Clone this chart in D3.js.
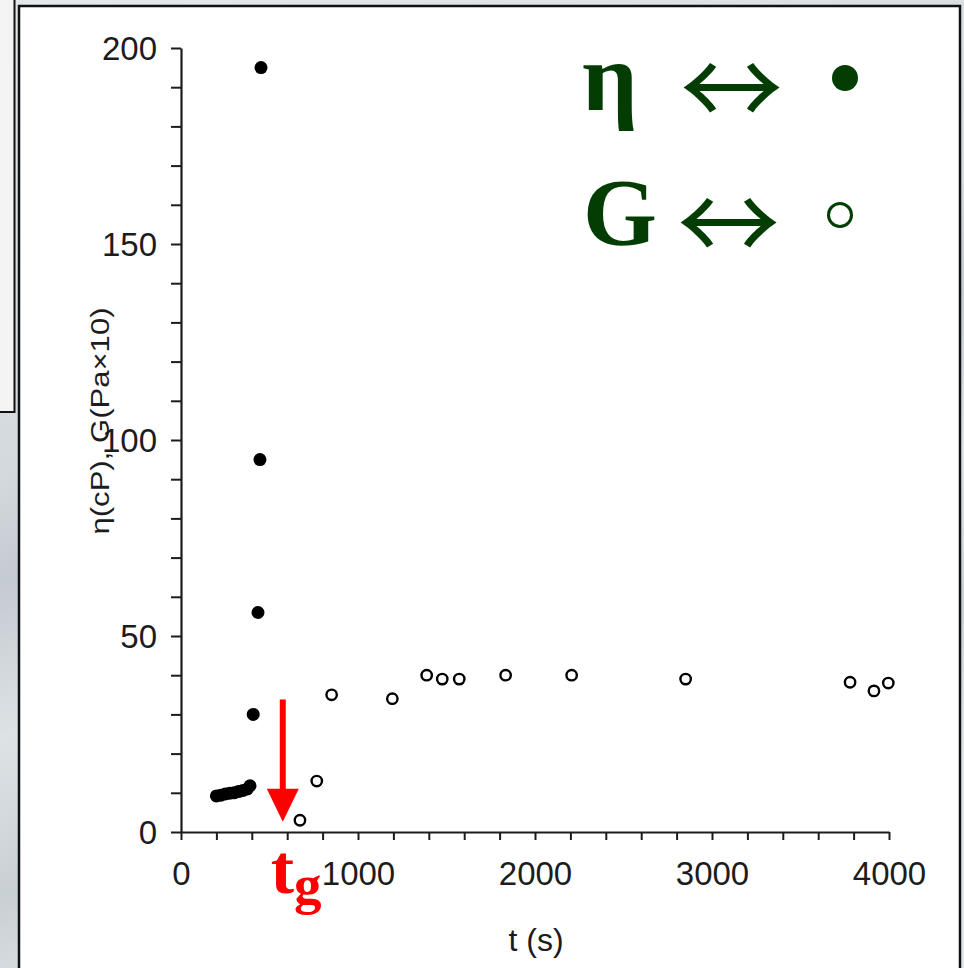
<!DOCTYPE html>
<html>
<head>
<meta charset="utf-8">
<script src="https://cdn.jsdelivr.net/npm/d3@7"></script>
<style>
  body { margin: 0; background: #dfe3e6; }
  svg { display: block; }
</style>
</head>
<body>
<svg id="chart" width="964" height="968"></svg>
<script>
// η (filled) : t in s, viscosity in cP
const etaTime = [200, 225, 250, 275, 300, 325, 350, 375, 390, 408, 435, 446, 452];
const etaValue = [9.2, 9.4, 9.7, 9.9, 10, 10.3, 10.6, 11, 11.8, 30, 56, 95, 195];

// G (open) : t in s, modulus in Pa x 10
const gTime = [672, 767, 851, 1194, 1388, 1476, 1572, 1834, 2207, 2851, 3780, 3915, 3996];
const gValue = [3, 13, 35, 34, 40, 39, 39, 40, 40, 39, 38.2, 36, 38];

const xTicks = [0, 200, 400, 600, 800, 1000, 1200, 1400, 1600, 1800, 2000, 2200, 2400, 2600, 2800, 3000, 3200, 3400, 3600, 3800, 4000];
const xLabels = [0, 1000, 2000, 3000, 4000];
const yLabels = [0, 50, 100, 150, 200];

// gel time marker
const tGel = 575;
const arrowFrom = 33.8;
const arrowTo = 2.6;

const green = "#033d03";
const red = "#ff0000";
const ink = "#1c1c1c";

const svg = d3.select("#chart");

// ---- background pieces ----
const defs = svg.append("defs");
const grad = defs.append("linearGradient")
  .attr("id", "bg")
  .attr("x1", 0).attr("y1", 0).attr("x2", 0.3).attr("y2", 1);
[["0", "#e4e8ea"], ["0.45", "#d4d9dd"], ["0.55", "#c4cbd1"], ["0.7", "#dde2e5"], ["0.85", "#c9d0d4"], ["1", "#e2e6e8"]]
  .forEach(([o, c]) => grad.append("stop").attr("offset", o).attr("stop-color", c));

svg.append("rect").attr("width", 964).attr("height", 968).attr("fill", "url(#bg)");

// box behind (top-left)
svg.append("rect")
  .attr("x", -5).attr("y", -5).attr("width", 19.5).attr("height", 417)
  .attr("fill", "#f4f4f4").attr("stroke", "#111").attr("stroke-width", 2);

// main panel
svg.append("rect")
  .attr("x", 19).attr("y", 6).attr("width", 941).attr("height", 980)
  .attr("fill", "#fff").attr("stroke", "#111").attr("stroke-width", 2.5);

// ---- scales ----
const x = d3.scaleLinear().domain([0, 4000]).range([181, 889]);
const y = d3.scaleLinear().domain([0, 200]).range([832, 48]);

const xAxis = d3.axisBottom(x)
  .tickValues(xTicks)
  .tickSize(8)
  .tickSizeOuter(0)
  .tickPadding(22)
  .tickFormat(d => xLabels.includes(d) ? d : "");

const yAxis = d3.axisLeft(y)
  .tickValues(d3.range(0, 201, 10))
  .tickSize(10)
  .tickSizeOuter(0)
  .tickPadding(14)
  .tickFormat(d => yLabels.includes(d) ? d : "");

const gx = svg.append("g")
  .attr("transform", `translate(0,${y(0)})`)
  .call(xAxis);

const gy = svg.append("g")
  .attr("transform", `translate(${x(0)},0)`)
  .call(yAxis);

[gx, gy].forEach(g => {
  g.select(".domain").attr("stroke", ink).attr("stroke-width", 2.2);
  g.selectAll(".tick line").attr("stroke", ink).attr("stroke-width", 2);
  g.selectAll(".tick text")
    .attr("fill", ink)
    .style("font-family", "'Liberation Sans', Arial, sans-serif")
    .style("font-size", "33px");
});
gx.selectAll(".tick text").attr("dy", "0.71em");
gy.selectAll(".tick text").attr("dy", "0.36em");

// axis titles
svg.append("text")
  .attr("transform", `translate(109,421) rotate(-90)`)
  .attr("text-anchor", "middle")
  .attr("textLength", 227)
  .attr("lengthAdjust", "spacingAndGlyphs")
  .attr("fill", ink)
  .style("font-family", "'Liberation Sans', Arial, sans-serif")
  .style("font-size", "26px")
  .text("η(cP), G(Pa×10)");

svg.append("text")
  .attr("x", 536).attr("y", 951)
  .attr("text-anchor", "middle")
  .attr("fill", ink)
  .style("font-family", "'Liberation Sans', Arial, sans-serif")
  .style("font-size", "32px")
  .text("t (s)");

// ---- data ----
const etaData = etaTime.map((t, i) => ({ t, v: etaValue[i] }));
const gData = gTime.map((t, i) => ({ t, v: gValue[i] }));

svg.append("g").selectAll("circle")
  .data(etaData)
  .join("circle")
  .attr("cx", d => x(d.t))
  .attr("cy", d => y(d.v))
  .attr("r", 6.5)
  .attr("fill", "#000");

svg.append("g").selectAll("circle")
  .data(gData)
  .join("circle")
  .attr("cx", d => x(d.t))
  .attr("cy", d => y(d.v))
  .attr("r", 5.2)
  .attr("fill", "#fff")
  .attr("stroke", "#000")
  .attr("stroke-width", 2.4);

// ---- gel point arrow ----
const ax = x(tGel);
svg.append("line")
  .attr("x1", ax).attr("x2", ax)
  .attr("y1", y(arrowFrom)).attr("y2", y(arrowTo) - 30)
  .attr("stroke", red).attr("stroke-width", 6);
svg.append("path")
  .attr("d", `M${ax - 16},${y(arrowTo) - 33} L${ax + 16},${y(arrowTo) - 33} L${ax},${y(arrowTo)} Z`)
  .attr("fill", red);

const tg = svg.append("text")
  .attr("x", ax - 12).attr("y", 893)
  .attr("fill", red)
  .style("font-family", "'Liberation Serif', 'Times New Roman', serif")
  .style("font-weight", "bold")
  .style("font-size", "70px")
  .text("t");
tg.append("tspan")
  .attr("dy", 10)
  .style("font-size", "55px")
  .text("g");

// ---- legend ----
const legend = svg.append("g")
  .attr("fill", green)
  .style("font-family", "'Liberation Serif', 'Times New Roman', serif")
  .style("font-weight", "bold");

// put a glyph's ink box exactly into (x0, y0, w, h)
const measure = document.createElement("canvas").getContext("2d");
function fitGlyph(g, str, family, x0, y0, w, h) {
  measure.font = `100px ${family}`;
  const m = measure.measureText(str);
  const sx = w / (m.actualBoundingBoxLeft + m.actualBoundingBoxRight);
  const sy = h / (m.actualBoundingBoxAscent + m.actualBoundingBoxDescent);
  g.append("text")
    .attr("transform", `translate(${x0 + m.actualBoundingBoxLeft * sx},${y0 + m.actualBoundingBoxAscent * sy}) scale(${sx},${sy})`)
    .style("font-family", family)
    .style("font-weight", "normal")
    .style("font-size", "100px")
    .text(str);
}

const arrowFont = "'Noto Sans CJK JP'";

legend.append("text").attr("x", 582).attr("y", 110).style("font-size", "98px").text("η");
fitGlyph(legend, "↔", arrowFont, 683, 62, 97, 50);
legend.append("circle").attr("cx", 845).attr("cy", 78).attr("r", 13).attr("fill", green);

legend.append("text").attr("x", 583).attr("y", 245).style("font-size", "95px").text("G");
fitGlyph(legend, "↔", arrowFont, 680, 197, 97, 50);
legend.append("circle").attr("cx", 840).attr("cy", 215).attr("r", 11.5)
  .attr("fill", "none").attr("stroke", green).attr("stroke-width", 3);
</script>
</body>
</html>
